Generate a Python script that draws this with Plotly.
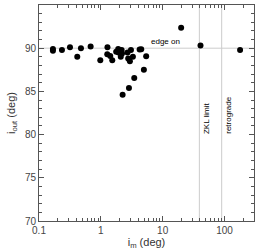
import math
import plotly.graph_objects as go

# data (i_m in deg, i_out in deg)
i_m = [0.168, 0.168, 0.235, 0.317, 0.416, 0.477, 0.684, 0.98, 1.28, 1.27, 1.42, 1.53,
       1.77, 1.91, 1.93, 2.1, 2.2, 2.17, 2.25, 2.7, 2.77, 2.95, 3.07, 3.3, 2.85, 3.47,
       4.97, 5.41, 4.24, 4.5, 19.9, 40.9, 178.6]
i_out = [89.7, 89.9, 89.8, 90.1, 89.0, 90.0, 90.2, 88.6, 90.1, 89.3, 89.1, 88.6,
         89.6, 89.9, 89.5, 89.0, 89.4, 89.8, 84.6, 89.5, 88.8, 88.5, 89.8, 89.0, 85.4, 86.55,
         87.5, 89.07, 89.85, 89.88, 92.36, 90.3, 89.8]

zkl_limit = 39.2
retrograde = 90.0
edge_on = 90.0

x_tickvals = [0.1, 1, 10, 100]
x_ticktext = ["0.1", "1", "10", "100"]
y_tickvals = [70, 75, 80, 85, 90, 95]

fig = go.Figure()
fig.add_trace(go.Scatter(x=i_m, y=i_out, mode="markers",
                         marker=dict(color="black", size=6), showlegend=False))

line_col = "#cccccc"
fig.add_shape(type="line", xref="paper", x0=0, x1=1, yref="y", y0=edge_on, y1=edge_on,
              line=dict(color=line_col, width=1), layer="below")
for xv in (zkl_limit, retrograde):
    fig.add_shape(type="line", xref="x", x0=xv, x1=xv, yref="paper", y0=0, y1=1,
                  line=dict(color=line_col, width=1), layer="below")

fig.add_annotation(x=math.log10(11.0), y=edge_on, xref="x", yref="y", text="edge on",
                   showarrow=False, yanchor="bottom", font=dict(size=8, color="black"))
fig.add_annotation(x=math.log10(zkl_limit), y=81.9, xref="x", yref="y", text="ZKL limit",
                   showarrow=False, textangle=-90, xanchor="left", xshift=0,
                   font=dict(size=8, color="black"))
fig.add_annotation(x=math.log10(retrograde), y=82.2, xref="x", yref="y", text="retrograde",
                   showarrow=False, textangle=-90, xanchor="left", xshift=0,
                   font=dict(size=8, color="black"))

axis_common = dict(showline=True, linecolor="#555555", linewidth=1, mirror="allticks",
                   ticks="inside", ticklen=5, tickcolor="#555555", showgrid=False,
                   zeroline=False, tickfont=dict(size=10, color="#444444"))

fig.update_xaxes(type="log", range=[-1, 2.477], tickvals=x_tickvals, ticktext=x_ticktext,
                 minor=dict(ticks="inside", ticklen=3, tickcolor="#555555",
                            tickvals=[v * d for d in (0.1, 1, 10) for v in range(2, 10)] + [200],
                            showgrid=False),
                 title=dict(text="i<sub>m</sub> (deg)", font=dict(size=11, color="#333333"),
                            standoff=2),
                 **axis_common)
fig.update_yaxes(range=[70, 95], tickvals=y_tickvals,
                 minor=dict(ticks="inside", ticklen=3, tickcolor="#555555", dtick=1,
                            showgrid=False),
                 title=dict(text="i<sub>out</sub> (deg)", font=dict(size=11, color="#333333"),
                            standoff=7),
                 **axis_common)

fig.update_layout(width=256, height=251, margin=dict(l=39, r=2, t=5, b=30),
                  paper_bgcolor="white", plot_bgcolor="white",
                  font=dict(family="Liberation Sans, Arial, sans-serif"))

fig.write_html("out.html", config={"displayModeBar": False},
               post_script="document.body.style.margin='0';")
